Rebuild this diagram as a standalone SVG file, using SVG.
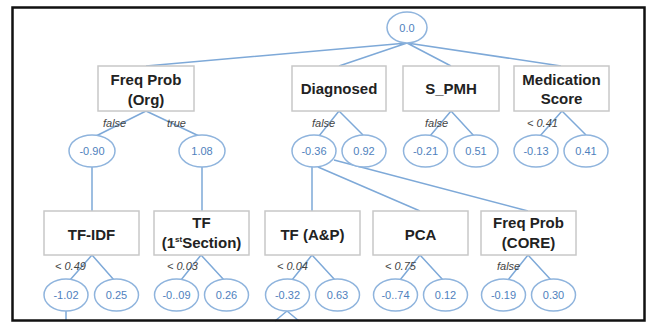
<svg xmlns="http://www.w3.org/2000/svg" width="647" height="324" viewBox="0 0 647 324">
<style>
.box{fill:#fff;stroke:#c8c8c8;stroke-width:1.5}
.ell{fill:#fff;stroke:#8fb4dd;stroke-width:1.5}
.lbl{font-family:"Liberation Sans",Arial,sans-serif;font-weight:bold;font-size:15px;fill:#222;text-anchor:middle}
.val{font-family:"Liberation Sans",Arial,sans-serif;font-size:11px;fill:#4f81bd;text-anchor:middle}
.cond{font-family:"Liberation Sans",Arial,sans-serif;font-style:italic;font-size:11px;fill:#444}
.ln{stroke:#7ea9d8;stroke-width:1.5;fill:none}
</style>
<rect x="0" y="0" width="647" height="324" fill="#fff"/>
<g id="connectors">
<path class="ln" d="M407,43 L146,66 M407,43 L339,66 M407,43 L451,66 M407,43 L561,66"/>
<path class="ln" d="M146,111 L96,136 M146,111 L199,136 M339,111 L319,136 M339,111 L363,135 M451,111 L430,136 M451,111 L474,136 M562,111 L540,136 M562,111 L586,135"/>
<path class="ln" d="M92,167 L92,211 M202,167 L202,211 M312,167 L312,211 M318,167 L420,211 M334,160 L528,211"/>
<path class="ln" d="M92,255 L70,280 M92,255 L114,280 M201,255 L181,280 M201,255 L224,280 M312,255 L292,280 M312,255 L335,280 M420,255 L400,280 M420,255 L443,280 M528,255 L508,280 M528,255 L551,280"/>
<path class="ln" d="M66,311 L66,321 M287,311 L275,321 M287,311 L299,321"/>
</g>
<g id="root"><ellipse class="ell" cx="407" cy="27.5" rx="20" ry="15.5"/><text class="val" x="407" y="31.5">0.0</text></g>
<g id="freqprob-org"><rect class="box" x="98" y="66" width="96" height="45"/><text class="lbl" x="146" y="85">Freq Prob</text><text class="lbl" x="146" y="105">(Org)</text></g>
<g id="diagnosed"><rect class="box" x="292" y="66" width="94" height="45"/><text class="lbl" x="339" y="94">Diagnosed</text></g>
<g id="s-pmh"><rect class="box" x="403" y="66" width="96" height="45"/><text class="lbl" x="451" y="94">S_PMH</text></g>
<g id="medication"><rect class="box" x="514" y="66" width="95" height="45"/><text class="lbl" x="561.5" y="85">Medication</text><text class="lbl" x="561.5" y="104">Score</text></g>
<g id="cond-top"><text class="cond" x="103" y="127">false</text><text class="cond" x="167" y="127">true</text><text class="cond" x="312" y="127">false</text><text class="cond" x="425" y="127">false</text><text class="cond" x="527" y="127">&lt; 0.41</text></g>
<g id="v-090"><ellipse class="ell" cx="92" cy="151" rx="23" ry="16"/><text class="val" x="92" y="155">-0.90</text></g>
<g id="v-108"><ellipse class="ell" cx="202" cy="151" rx="23" ry="16"/><text class="val" x="202" y="155">1.08</text></g>
<g id="v-036"><ellipse class="ell" cx="314" cy="151" rx="22" ry="16"/><text class="val" x="314" y="155">-0.36</text></g>
<g id="v-092"><ellipse class="ell" cx="364" cy="151" rx="22" ry="16"/><text class="val" x="364" y="155">0.92</text></g>
<g id="v-021"><ellipse class="ell" cx="425.5" cy="151" rx="22" ry="16"/><text class="val" x="425.5" y="155">-0.21</text></g>
<g id="v-051"><ellipse class="ell" cx="476" cy="151" rx="22" ry="16"/><text class="val" x="476" y="155">0.51</text></g>
<g id="v-013"><ellipse class="ell" cx="536" cy="151" rx="22" ry="16"/><text class="val" x="536" y="155">-0.13</text></g>
<g id="v-041"><ellipse class="ell" cx="586" cy="151" rx="22" ry="16"/><text class="val" x="586" y="155">0.41</text></g>
<g id="tfidf"><rect class="box" x="44" y="211" width="95" height="44"/><text class="lbl" x="91.5" y="240">TF-IDF</text></g>
<g id="tf-1st"><rect class="box" x="154" y="211" width="95" height="44"/><text class="lbl" x="201.5" y="228">TF</text><text class="lbl" x="201.5" y="248">(1<tspan font-size="8" dy="-6">st</tspan><tspan dy="6">Section)</tspan></text></g>
<g id="tf-ap"><rect class="box" x="265" y="211" width="95" height="44"/><text class="lbl" x="312.5" y="240">TF (A&amp;P)</text></g>
<g id="pca"><rect class="box" x="373" y="211" width="95" height="44"/><text class="lbl" x="420.5" y="240">PCA</text></g>
<g id="freqprob-core"><rect class="box" x="481" y="211" width="95" height="44"/><text class="lbl" x="528.5" y="228">Freq Prob</text><text class="lbl" x="528.5" y="248">(CORE)</text></g>
<g id="cond-bottom"><text class="cond" x="55" y="270">&lt; 0.49</text><text class="cond" x="167" y="270">&lt; 0.03</text><text class="cond" x="277" y="270">&lt; 0.04</text><text class="cond" x="385" y="270">&lt; 0.75</text><text class="cond" x="497" y="270">false</text></g>
<g id="v-102"><ellipse class="ell" cx="66" cy="295" rx="22" ry="16"/><text class="val" x="66" y="299">-1.02</text></g>
<g id="v-025"><ellipse class="ell" cx="116.5" cy="295" rx="22" ry="16"/><text class="val" x="116.5" y="299">0.25</text></g>
<g id="v-009"><ellipse class="ell" cx="176.5" cy="295" rx="22" ry="16"/><text class="val" x="176.5" y="299">-0..09</text></g>
<g id="v-026"><ellipse class="ell" cx="226.5" cy="295" rx="22" ry="16"/><text class="val" x="226.5" y="299">0.26</text></g>
<g id="v-032"><ellipse class="ell" cx="287.5" cy="295" rx="22" ry="16"/><text class="val" x="287.5" y="299">-0.32</text></g>
<g id="v-063"><ellipse class="ell" cx="337.5" cy="295" rx="22" ry="16"/><text class="val" x="337.5" y="299">0.63</text></g>
<g id="v-074"><ellipse class="ell" cx="395.5" cy="295" rx="22" ry="16"/><text class="val" x="395.5" y="299">-0..74</text></g>
<g id="v-012"><ellipse class="ell" cx="445.5" cy="295" rx="22" ry="16"/><text class="val" x="445.5" y="299">0.12</text></g>
<g id="v-019"><ellipse class="ell" cx="503.5" cy="295" rx="22" ry="16"/><text class="val" x="503.5" y="299">-0.19</text></g>
<g id="v-030"><ellipse class="ell" cx="553.5" cy="295" rx="22" ry="16"/><text class="val" x="553.5" y="299">0.30</text></g>
<rect x="12.5" y="7.5" width="632" height="313" fill="none" stroke="#111" stroke-width="2.5"/>
</svg>
